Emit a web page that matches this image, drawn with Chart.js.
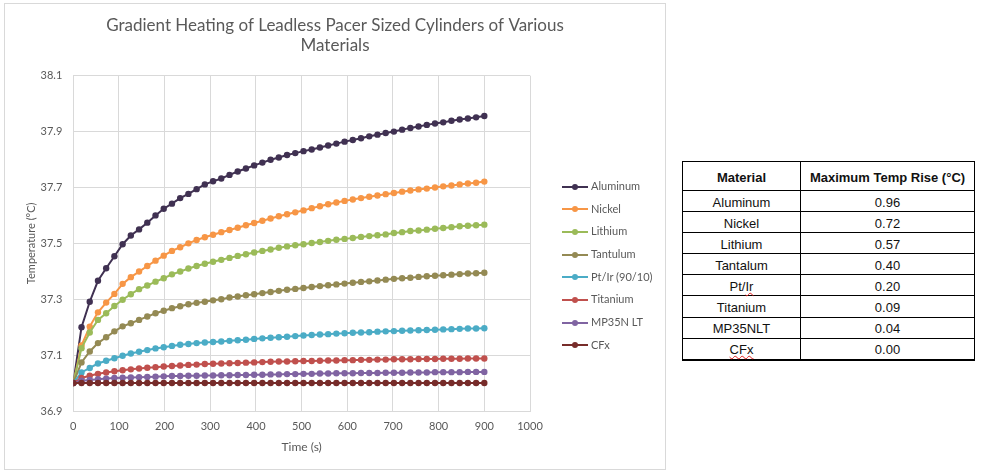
<!DOCTYPE html>
<html>
<head>
<meta charset="utf-8">
<title>Gradient Heating</title>
<script src="https://cdn.jsdelivr.net/npm/chart.js@4.4.1/dist/chart.umd.min.js"></script>
<style>
    body { margin: 0; width: 981px; height: 476px; position: relative; overflow: hidden; background: #fff; font-family: Lato, "Open Sans", sans-serif; }
    .chart-wrap { position: absolute; left: 4px; top: 3px; width: 662px; height: 467px; }
    .chart-frame { position: absolute; left: 4px; top: 3px; width: 662px; height: 467px; border: 1px solid #d9d9d9; box-sizing: border-box; pointer-events: none; }
    .legend { position: absolute; left: 562px; top: 175px; }
    .legend-item { position: relative; height: 22.7px; font-size: 11px; color: #595959; line-height: 22.7px; padding-left: 29px; white-space: nowrap; }
    .legend-item .ln { position: absolute; left: 0; top: 10.5px; width: 26px; height: 2px; }
    .legend-item .dot { position: absolute; left: 10px; top: 8.5px; width: 6px; height: 6px; border-radius: 50%; }
    table.summary { position: absolute; left: 682px; top: 161px; border-collapse: collapse; font-family: "Liberation Sans", Arial, sans-serif; font-size: 13px; color: #111; }
    table.summary td, table.summary th { border: 1px solid #000; text-align: center; padding: 0; line-height: 15px; }
    table.summary th { height: 26px; padding-top: 2px; font-weight: bold; }
    table.summary td { height: 18.1px; padding-top: 2px; }
    table.summary tr:last-child td { border-bottom: 2px solid #000; }
    .sp { text-decoration: underline wavy #e02020 1px; text-decoration-skip-ink: none; text-underline-offset: 1px; }
</style>
</head>
<body>
<div class="chart-wrap"><canvas id="heatChart"></canvas></div>
<div class="chart-frame"></div>
<div class="legend" id="legend"></div>
<table class="summary" id="summary"></table>

<script>
const times = [0, 18, 36, 54, 72, 90, 108, 126, 144, 162,
    180, 198, 216, 234, 252, 270, 288, 306, 324, 342,
    360, 378, 396, 414, 432, 450, 468, 486, 504, 522,
    540, 558, 576, 594, 612, 630, 648, 666, 684, 702,
    720, 738, 756, 774, 792, 810, 828, 846, 864, 882,
    900];

const aluminum = [37.000, 37.200, 37.291, 37.366, 37.411, 37.454, 37.497, 37.528, 37.550, 37.574,
    37.600, 37.624, 37.642, 37.662, 37.677, 37.694, 37.711, 37.722, 37.732, 37.745,
    37.757, 37.768, 37.779, 37.789, 37.799, 37.807, 37.816, 37.823, 37.830, 37.836,
    37.843, 37.850, 37.857, 37.864, 37.870, 37.876, 37.883, 37.889, 37.895, 37.900,
    37.907, 37.913, 37.918, 37.924, 37.929, 37.933, 37.939, 37.943, 37.947, 37.951,
    37.956];

const nickel = [37.000, 37.135, 37.202, 37.253, 37.288, 37.319, 37.355, 37.379, 37.399, 37.419,
    37.438, 37.456, 37.473, 37.486, 37.500, 37.512, 37.522, 37.531, 37.540, 37.548,
    37.556, 37.565, 37.573, 37.581, 37.589, 37.597, 37.604, 37.611, 37.618, 37.626,
    37.633, 37.640, 37.646, 37.652, 37.657, 37.662, 37.667, 37.671, 37.676, 37.680,
    37.685, 37.689, 37.693, 37.696, 37.700, 37.704, 37.707, 37.711, 37.714, 37.717,
    37.721];

const lithium = [37.000, 37.125, 37.181, 37.226, 37.250, 37.276, 37.298, 37.318, 37.336, 37.349,
    37.363, 37.375, 37.389, 37.399, 37.410, 37.419, 37.427, 37.434, 37.441, 37.448,
    37.455, 37.461, 37.467, 37.473, 37.478, 37.484, 37.489, 37.493, 37.497, 37.501,
    37.505, 37.509, 37.513, 37.516, 37.519, 37.523, 37.526, 37.529, 37.532, 37.537,
    37.540, 37.544, 37.546, 37.549, 37.552, 37.555, 37.558, 37.561, 37.563, 37.565,
    37.567];

const tantalum = [37.000, 37.074, 37.113, 37.143, 37.164, 37.185, 37.203, 37.214, 37.226, 37.238,
    37.250, 37.259, 37.268, 37.275, 37.282, 37.287, 37.291, 37.296, 37.300, 37.306,
    37.310, 37.314, 37.318, 37.322, 37.326, 37.330, 37.334, 37.337, 37.340, 37.344,
    37.347, 37.350, 37.353, 37.356, 37.359, 37.362, 37.364, 37.367, 37.370, 37.373,
    37.375, 37.377, 37.380, 37.382, 37.384, 37.386, 37.388, 37.390, 37.392, 37.393,
    37.395];

const ptIr = [37.000, 37.038, 37.054, 37.070, 37.080, 37.089, 37.098, 37.106, 37.112, 37.118,
    37.124, 37.128, 37.133, 37.137, 37.140, 37.143, 37.145, 37.147, 37.149, 37.151,
    37.153, 37.155, 37.158, 37.160, 37.162, 37.164, 37.166, 37.168, 37.170, 37.172,
    37.174, 37.175, 37.177, 37.178, 37.180, 37.181, 37.182, 37.184, 37.185, 37.186,
    37.187, 37.188, 37.189, 37.190, 37.191, 37.192, 37.193, 37.194, 37.195, 37.195,
    37.196];

const titanium = [37.000, 37.018, 37.026, 37.033, 37.038, 37.042, 37.046, 37.049, 37.052, 37.055,
    37.057, 37.059, 37.061, 37.063, 37.065, 37.066, 37.068, 37.069, 37.070, 37.071,
    37.072, 37.073, 37.074, 37.075, 37.076, 37.077, 37.077, 37.078, 37.079, 37.079,
    37.080, 37.081, 37.081, 37.082, 37.082, 37.083, 37.083, 37.084, 37.084, 37.085,
    37.085, 37.085, 37.086, 37.086, 37.086, 37.087, 37.087, 37.087, 37.088, 37.088,
    37.088];

const mp35n = [37.000, 37.008, 37.011, 37.014, 37.016, 37.018, 37.019, 37.020, 37.021, 37.022,
    37.023, 37.024, 37.025, 37.025, 37.026, 37.026, 37.027, 37.027, 37.028, 37.028,
    37.029, 37.029, 37.030, 37.030, 37.031, 37.031, 37.032, 37.032, 37.033, 37.033,
    37.034, 37.034, 37.035, 37.035, 37.035, 37.036, 37.036, 37.036, 37.037, 37.037,
    37.037, 37.038, 37.038, 37.038, 37.039, 37.039, 37.039, 37.039, 37.040, 37.040,
    37.040];

const cfx = [37.000, 37.000, 37.000, 37.000, 37.000, 37.000, 37.000, 37.000, 37.000, 37.000,
    37.000, 37.000, 37.000, 37.000, 37.000, 37.000, 37.000, 37.000, 37.000, 37.000,
    37.000, 37.000, 37.000, 37.000, 37.000, 37.000, 37.000, 37.000, 37.000, 37.000,
    37.000, 37.000, 37.000, 37.000, 37.000, 37.000, 37.000, 37.000, 37.000, 37.000,
    37.000, 37.000, 37.000, 37.000, 37.000, 37.000, 37.000, 37.000, 37.000, 37.000,
    37.000];

const seriesNames = ['Aluminum', 'Nickel', 'Lithium', 'Tantulum', 'Pt/Ir (90/10)', 'Titanium', 'MP35N LT', 'CFx'];
const seriesValues = [aluminum, nickel, lithium, tantalum, ptIr, titanium, mp35n, cfx];
const seriesColors = ['#403152', '#f79646', '#9bbb59', '#948a54', '#4bacc6', '#c0504d', '#8064a2', '#772c2a'];

const xTicks = [0, 100, 200, 300, 400, 500, 600, 700, 800, 900, 1000];
const yTicks = [36.9, 37.1, 37.3, 37.5, 37.7, 37.9, 38.1];

// table on the right
const tableMaterials = ['Aluminum', 'Nickel', 'Lithium', 'Tantalum', 'Pt/Ir', 'Titanium', 'MP35NLT', 'CFx'];
const tableMaxRise = ['0.96', '0.72', '0.57', '0.40', '0.20', '0.09', '0.04', '0.00'];
const spellFlagged = ['Ir', 'CFx'];

Chart.defaults.font.family = 'Lato, "Open Sans", sans-serif';
Chart.defaults.color = '#595959';

function buildDatasets() {
    return seriesNames.map((name, i) => ({
        label: name,
        data: times.map((t, j) => ({ x: t, y: seriesValues[i][j] })),
        borderColor: seriesColors[i],
        backgroundColor: seriesColors[i],
        pointBackgroundColor: seriesColors[i],
        pointBorderColor: seriesColors[i],
        pointRadius: 3.2,
        pointBorderWidth: 0,
        borderWidth: 2,
        tension: 0,
        fill: false,
        order: seriesNames.length - i
    }));
}

function buildLegend() {
    const box = document.getElementById('legend');
    seriesNames.forEach((name, i) => {
        const item = document.createElement('div');
        item.className = 'legend-item';
        item.innerHTML = `<span class="ln" style="background:${seriesColors[i]}"></span>` +
            `<span class="dot" style="background:${seriesColors[i]}"></span>${name}`;
        box.appendChild(item);
    });
}

function markSpelling(text) {
    let out = text;
    spellFlagged.forEach(w => {
        out = out.replace(new RegExp('\\b' + w + '\\b'), `<span class="sp">${w}</span>`);
    });
    return out;
}

function buildTable() {
    const table = document.getElementById('summary');
    let html = '<tr><th style="width:117px">Material</th><th style="width:173px">Maximum Temp Rise (°C)</th></tr>';
    tableMaterials.forEach((m, i) => {
        html += `<tr><td>${markSpelling(m)}</td><td>${tableMaxRise[i]}</td></tr>`;
    });
    table.innerHTML = html;
}

const ctx = document.getElementById('heatChart').getContext('2d');
new Chart(ctx, {
    type: 'line',
    data: { datasets: buildDatasets() },
    options: {
        responsive: true,
        maintainAspectRatio: false,
        animation: false,
        layout: { padding: 0 },
        plugins: {
            legend: { display: false },
            tooltip: { enabled: false },
            title: {
                display: true,
                text: ['Gradient Heating of Leadless Pacer Sized Cylinders of Various', 'Materials'],
                color: '#595959',
                font: { size: 17, weight: 'normal' },
                padding: { top: 12, bottom: 19.9 }
            }
        },
        scales: {
            x: {
                type: 'linear',
                min: 0,
                max: 1000,
                afterBuildTicks: s => { s.ticks = xTicks.map(v => ({ value: v })); },
                afterFit: s => { s.height = 59; },
                grid: { color: '#d9d9d9', drawTicks: false },
                border: { color: '#d9d9d9' },
                ticks: { padding: 9, color: '#595959', font: { size: 11 }, maxRotation: 0, callback: v => String(v) },
                title: { display: true, text: 'Time (s)', color: '#595959', font: { size: 12 }, padding: { top: 0, bottom: 16 } }
            },
            y: {
                min: 36.9,
                max: 38.1,
                afterBuildTicks: s => { s.ticks = yTicks.map(v => ({ value: v })); },
                afterFit: s => { s.width = 69.3; },
                grid: { color: '#d9d9d9', drawTicks: false },
                border: { display: false },
                ticks: { padding: 11, color: '#595959', font: { size: 11 }, callback: v => v.toFixed(1) },
                title: { display: true, text: 'Temperature (°C)', color: '#595959', font: { size: 11 }, padding: { top: 21, bottom: 0 } }
            },
            // empty right-hand axis, keeps room for the legend
            legendSpace: {
                position: 'right',
                afterFit: s => { s.width = 136; },
                grid: { display: false },
                border: { display: false },
                ticks: { display: false }
            }
        }
    }
});

buildLegend();
buildTable();
</script>
</body>
</html>
